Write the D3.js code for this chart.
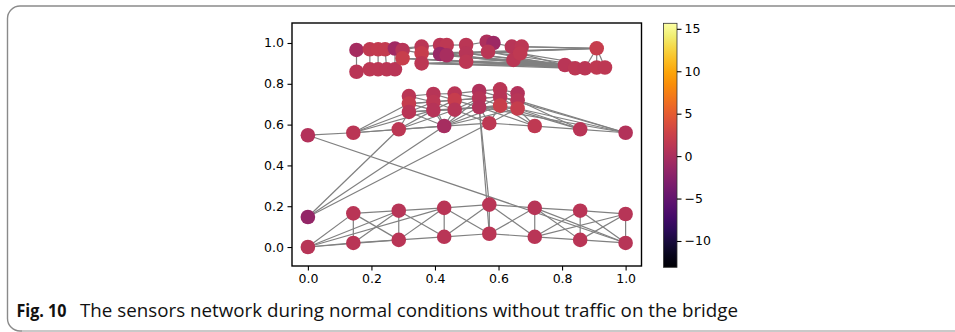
<!DOCTYPE html>
<html>
<head>
<meta charset="utf-8">
<script src="https://cdn.jsdelivr.net/npm/d3@7"></script>
<style>
  body { margin: 0; background: #fff; }
  svg { display: block; }
</style>
</head>
<body>
<svg id="chart" width="955" height="332"></svg>
<script>
// sensor columns along the deck (x in data units)
const deckX = [0, 0.143, 0.286, 0.429, 0.571, 0.714, 0.857, 1.0];
const bottomLowY = [0.0, 0.02, 0.035, 0.05, 0.065, 0.05, 0.035, 0.02];
const bottomLowV = [1.0, 1.1, 1.1, 1.1, 1.2, 1.1, 1.1, 1.0];
const bottomUpY = [0.147, 0.165, 0.178, 0.192, 0.208, 0.192, 0.178, 0.162];
const bottomUpV = [-1.6, 1.1, 1.0, 1.1, 1.1, 1.0, 1.1, 1.0];
const midY = [0.548, 0.56, 0.577, 0.593, 0.607, 0.593, 0.577, 0.56];
const midV = [0.7, 1.2, 1.3, -0.2, 1.4, 1.6, 1.1, 0.7];

// upper middle block: 6 columns x 3 rows (top, middle, bottom)
const blockX = [0.318, 0.395, 0.462, 0.539, 0.605, 0.66];
const blockY = [
  [0.740, 0.703, 0.662],
  [0.750, 0.711, 0.671],
  [0.752, 0.720, 0.673],
  [0.765, 0.729, 0.686],
  [0.773, 0.736, 0.693],
  [0.753, 0.719, 0.679]
];
const blockV = [
  [1.2, 2.0, 1.1],
  [1.0, 1.3, 0.9],
  [1.1, 2.1, 1.0],
  [0.4, 0.9, 0.5],
  [1.2, 1.0, 2.3],
  [0.7, 1.0, 2.1]
];

// top cluster
const topX = [0.153, 0.195, 0.221, 0.243, 0.274, 0.153, 0.195, 0.221, 0.248, 0.274,
  0.298, 0.298, 0.358, 0.358, 0.358, 0.416, 0.437, 0.416, 0.437, 0.498, 0.498, 0.498,
  0.563, 0.584, 0.567, 0.642, 0.673, 0.647, 0.668,
  0.909, 0.809, 0.841, 0.872, 0.909, 0.935];
const topY = [0.966, 0.969, 0.969, 0.969, 0.973, 0.859, 0.871, 0.871, 0.871, 0.871,
  0.966, 0.925, 0.982, 0.949, 0.900, 0.990, 0.990, 0.946, 0.940, 0.990, 0.949, 0.908,
  1.006, 1.000, 0.957, 0.982, 0.982, 0.917, 0.949,
  0.974, 0.892, 0.876, 0.876, 0.880, 0.880];
const topV = [-0.3, 1.7, 1.9, 1.9, -0.7, 1.1, 1.3, 1.3, 1.2, 1.1,
  1.0, 2.2, 1.2, 2.1, 1.3, 1.1, 1.4, -1.3, -0.1, 1.2, 1.0, 1.3,
  0.3, -0.9, 1.2, 1.0, 1.3, 1.2, 1.6,
  2.1, 1.1, 1.3, 1.2, 1.5, 1.4];

// edges as node index pairs
const edges = [
  [0,1],[1,2],[2,3],[3,4],[4,5],[5,6],[6,7],
  [9,10],[10,11],[11,12],[12,13],[13,14],[14,15],
  [1,9],[2,10],[3,11],[4,12],[5,13],[6,14],[7,15],
  [1,10],[9,2],[2,11],[10,3],[3,12],[11,4],[4,13],[12,5],[5,14],[13,6],[6,15],[14,7],
  [0,9],[0,10],[0,11],[0,2],[13,7],[5,15],
  [16,7],[8,18],[8,19],[8,20],[35,12],[35,4],
  [16,17],[17,18],[18,19],[19,20],[20,21],[21,22],[22,23],[17,19],
  [24,25],[25,26],[27,28],[28,29],[30,31],[31,32],[33,34],[34,35],[36,37],[37,38],[39,40],[40,41],
  [24,27],[25,28],[26,29],[27,30],[28,31],[29,32],[30,33],[31,34],[32,35],[33,36],[34,37],[35,38],[36,39],[37,40],[38,41],
  [24,28],[25,29],[26,28],[27,31],[28,32],[29,31],[30,34],[31,35],[32,34],[33,37],[34,38],[35,37],[36,40],[37,41],[38,40],
  [26,32],[29,35],[32,38],[35,41],[25,31],[31,37],
  [17,26],[17,25],[17,29],[18,26],[18,29],[18,32],[19,26],[19,29],[19,32],[19,35],[19,38],[19,41],[19,28],[19,34],
  [20,35],[20,38],[20,32],[20,41],[21,38],[21,41],[21,35],[22,41],[22,38],[22,40],[23,41],[23,40],[23,37],[23,35],
  [42,43],[43,44],[44,45],[45,46],[47,48],[48,49],[49,50],[50,51],
  [42,47],[43,48],[44,49],[45,50],[46,51],[46,52],[51,53],[46,53],[45,52],[50,53],
  [52,53],[54,55],[55,56],[57,59],[58,60],[57,58],[61,62],[62,63],[64,66],[65,66],[64,65],
  [67,69],[68,70],[67,68],[54,57],[55,59],[58,61],[60,62],[61,64],[62,66],[65,67],[66,70],
  [63,69],[56,63],[46,54],[52,55],[52,54],
  [53,72],[53,73],[55,72],[55,74],[56,73],[56,75],[59,72],[59,74],[60,73],[60,76],
  [62,72],[62,75],[63,74],[63,76],[66,73],[66,75],[69,72],[69,74],[70,73],[70,76],
  [55,71],[62,71],[59,71],[68,71],[67,71],[53,75],[56,72],
  [71,74],[71,75],[72,73],[73,74],[74,75],[75,76],[71,76]
];

const xTicks = [0, 0.2, 0.4, 0.6, 0.8, 1.0];
const yTicks = [0, 0.2, 0.4, 0.6, 0.8, 1.0];
const colorTicks = [-10, -5, 0, 5, 10, 15];
const colorDomain = [-13.1, 15.65];
const captionLabel = 'Fig. 10';
const captionText = 'The sensors network during normal conditions without traffic on the bridge';

// flatten the groups into one node list (order defines the edge indices)
const nodes = [];
deckX.forEach((x, i) => nodes.push({ x: x, y: bottomLowY[i], v: bottomLowV[i] }));
deckX.forEach((x, i) => nodes.push({ x: x, y: bottomUpY[i], v: bottomUpV[i] }));
deckX.forEach((x, i) => nodes.push({ x: x, y: midY[i], v: midV[i] }));
blockX.forEach((x, c) => blockY[c].forEach((y, r) => nodes.push({ x: x, y: y, v: blockV[c][r] })));
topX.forEach((x, i) => nodes.push({ x: x, y: topY[i], v: topV[i] }));

const svg = d3.select('#chart');
const tickFont = "'DejaVu Sans', sans-serif";

// page frame
svg.append('path')
  .attr('d', 'M 960 6 H 20 A 12.5 12.5 0 0 0 7.5 18.5 V 318.5 A 12.5 12.5 0 0 0 20 331 H 960')
  .attr('fill', 'none')
  .attr('stroke', '#8a8a8a')
  .attr('stroke-width', 1.4);
svg.append('line')
  .attr('x1', 22).attr('x2', 960).attr('y1', 331).attr('y2', 331)
  .attr('stroke', '#d4d4d4').attr('stroke-width', 1.6);

const x = d3.scaleLinear().domain([-0.05, 1.05]).range([292, 641.5]);
const y = d3.scaleLinear().domain([-0.093, 1.098]).range([266, 23]);
const color = d3.scaleSequential(d3.interpolateInferno).domain(colorDomain);

const g = svg.append('g');

g.append('g')
  .selectAll('line')
  .data(edges)
  .enter().append('line')
  .attr('x1', d => x(nodes[d[0]].x))
  .attr('y1', d => y(nodes[d[0]].y))
  .attr('x2', d => x(nodes[d[1]].x))
  .attr('y2', d => y(nodes[d[1]].y))
  .attr('stroke', '#808080')
  .attr('stroke-width', 1.2);

g.append('g')
  .selectAll('circle')
  .data(nodes)
  .enter().append('circle')
  .attr('cx', d => x(d.x))
  .attr('cy', d => y(d.y))
  .attr('r', 7.3)
  .attr('fill', d => color(d.v));

// axes
const xAxis = d3.axisBottom(x).tickValues(xTicks).tickFormat(d3.format('.1f')).tickSize(4.5).tickPadding(3.5);
const yAxis = d3.axisLeft(y).tickValues(yTicks).tickFormat(d3.format('.1f')).tickSize(4.5).tickPadding(3.5);

const gx = svg.append('g').attr('transform', 'translate(0,266)').call(xAxis);
const gy = svg.append('g').attr('transform', 'translate(292,0)').call(yAxis);
[gx, gy].forEach(a => {
  a.select('.domain').remove();
  a.selectAll('.tick line').attr('stroke', '#000').attr('stroke-width', 1.1);
  a.selectAll('.tick text').attr('fill', '#000').style('font-family', tickFont).style('font-size', '12.5px');
});

svg.append('rect')
  .attr('x', 292).attr('y', 23)
  .attr('width', 349.5).attr('height', 243)
  .attr('fill', 'none')
  .attr('stroke', '#000')
  .attr('stroke-width', 1.4);

// colorbar
const cy = d3.scaleLinear().domain(colorDomain).range([267.3, 23.3]);
const grad = svg.append('defs').append('linearGradient')
  .attr('id', 'cbar').attr('x1', 0).attr('x2', 0).attr('y1', 1).attr('y2', 0);
d3.range(0, 1.0001, 0.05).forEach(t => {
  grad.append('stop').attr('offset', t).attr('stop-color', d3.interpolateInferno(t));
});
svg.append('rect')
  .attr('x', 663.5).attr('y', 23.3)
  .attr('width', 13.5).attr('height', 244)
  .attr('fill', 'url(#cbar)')
  .attr('stroke', '#333')
  .attr('stroke-width', 0.8);

const cAxis = d3.axisRight(cy).tickValues(colorTicks)
  .tickFormat(d => d < 0 ? '\u2212' + Math.abs(d) : String(d))
  .tickSize(4.5).tickPadding(3);
const gc = svg.append('g').attr('transform', 'translate(677,0)').call(cAxis);
gc.select('.domain').remove();
gc.selectAll('.tick line').attr('stroke', '#000').attr('stroke-width', 1.1);
gc.selectAll('.tick text').attr('fill', '#000').style('font-family', tickFont).style('font-size', '12.5px');

// caption
svg.append('text')
  .attr('x', 16.5).attr('y', 316.5)
  .attr('textLength', 50).attr('lengthAdjust', 'spacingAndGlyphs')
  .style('font-family', "'Open Sans', 'Noto Sans', sans-serif")
  .style('font-size', '18px').style('font-weight', 'bold')
  .attr('fill', '#111')
  .text(captionLabel);
svg.append('text')
  .attr('x', 80).attr('y', 316.5)
  .attr('textLength', 658).attr('lengthAdjust', 'spacingAndGlyphs')
  .style('font-family', "'Open Sans', 'Noto Sans', sans-serif")
  .style('font-size', '18px')
  .attr('fill', '#111')
  .text(captionText);
</script>
</body>
</html>
